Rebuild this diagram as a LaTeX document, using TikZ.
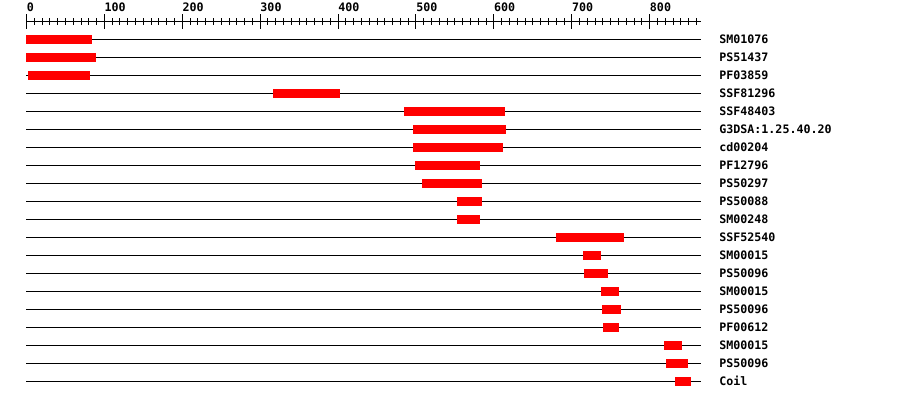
\documentclass[tikz,border=0pt]{standalone}
\usepackage{fontspec}
\setmonofont{DejaVu Sans Mono}
\usepackage{xcolor}
\usepackage{tikz}
\usetikzlibrary{positioning}
\definecolor{DomRed}{RGB}{255, 0, 0}
\definecolor{TrackInk}{RGB}{0, 0, 0}

\tikzset{
  trackline/.style={draw=TrackInk, line width=0.75pt},
  dombar/.style={fill=DomRed, draw=none},
  dblabel/.style={font=\ttfamily\bfseries\fontsize{8.75}{10}\selectfont, text=TrackInk, anchor=west, inner sep=0pt},
  scalelabel/.style={font=\ttfamily\bfseries\fontsize{8.75}{10}\selectfont, text=TrackInk, anchor=base west, inner sep=0pt}
}

\begin{document}
\begin{tikzpicture}[x=0.5843pt, y=-0.75pt]
    \useasboundingbox (-34,0) rectangle (1121.3,400);
    % ruler
    \draw[trackline] (0,21.5) -- (866,21.5);
    \foreach \t in {0,10,...,860}
      \draw[trackline] (\t,18) -- (\t,25);
    \foreach \t in {0,100,...,800} {
      \draw[trackline] (\t,14) -- (\t,29);
      \node[scalelabel] (tick\t) at (\t,12) {\t};
    }
    % one track per database match
    \foreach \nm/\s/\e [count=\i] in {
        SM01076/0/84, PS51437/0/89, PF03859/2/81, SSF81296/316/402,
        SSF48403/485/614, G3DSA:1.25.40.20/496/615, cd00204/496/612,
        PF12796/499/582, PS50297/508/585, PS50088/553/585, SM00248/553/582,
        SSF52540/680/767, SM00015/714/737, PS50096/716/746, SM00015/737/760,
        PS50096/739/763, PF00612/740/760, SM00015/818/841, PS50096/821/849,
        Coil/833/853} {
      \coordinate (row\i) at (0,21.3+18*\i);
      \draw[trackline] (row\i) -- (866,21.3+18*\i);
      \fill[dombar] (\s,16.8+18*\i) rectangle (\e,25.8+18*\i);
      \node[dblabel] (lab\i) at (889,21.3+18*\i) {\nm};
    }
\end{tikzpicture}
\end{document}
